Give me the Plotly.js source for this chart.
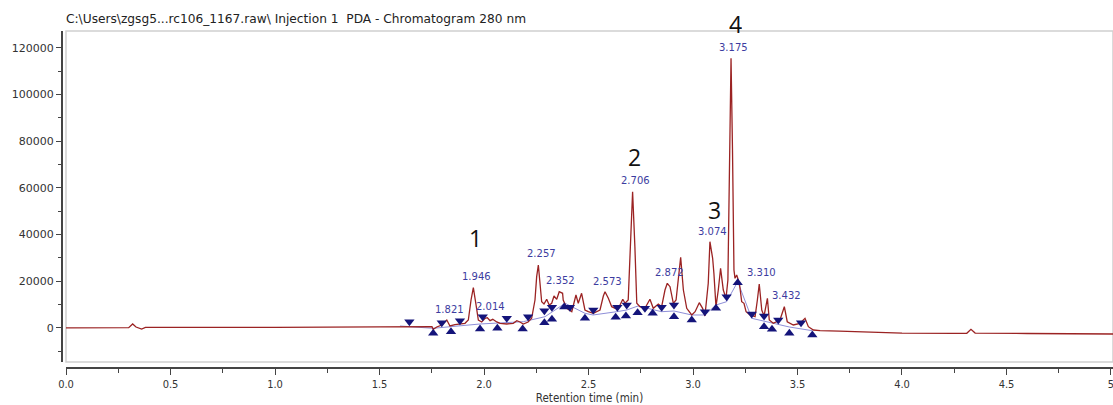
<!DOCTYPE html>
<html>
<head>
<meta charset="utf-8">
<script src="https://cdn.plot.ly/plotly-3.0.1.min.js"></script>
<style>html,body{margin:0;padding:0;background:#fff;}#chart{width:1113px;height:405px;}</style>
</head>
<body>
<div id="chart"></div>
<script>
// Chromatogram trace (retention time in min, intensity)
var traceTime = [0.00,0.30,0.319,0.335,0.362,0.38,1.00,1.55,1.598,1.751,1.757,1.774,1.798,1.822,1.837,1.861,1.909,1.925,1.938,1.949,1.962,1.973,1.989,2.005,2.016,2.029,2.042,2.061,2.077,2.109,2.140,2.157,2.172,2.188,2.211,2.228,2.244,2.252,2.260,2.268,2.276,2.287,2.300,2.312,2.324,2.335,2.348,2.360,2.376,2.379,2.396,2.420,2.440,2.451,2.467,2.483,2.499,2.523,2.555,2.571,2.579,2.595,2.611,2.627,2.647,2.664,2.675,2.690,2.702,2.711,2.722,2.731,2.746,2.770,2.794,2.810,2.834,2.850,2.866,2.877,2.890,2.906,2.919,2.930,2.941,2.954,2.970,2.994,3.010,3.030,3.046,3.057,3.073,3.081,3.094,3.100,3.110,3.121,3.132,3.145,3.158,3.167,3.175,3.182,3.189,3.196,3.201,3.209,3.222,3.233,3.244,3.254,3.273,3.297,3.308,3.317,3.329,3.340,3.356,3.365,3.384,3.416,3.437,3.451,3.480,3.512,3.536,3.552,3.576,3.608,3.70,3.85,4.00,4.25,4.31,4.33,4.35,4.60,5.01];
var traceSignal = [-100,0,1590,300,-560,100,100,200,300,430,-690,300,1160,3300,730,1290,1890,3300,11880,17160,9740,3300,2450,4030,4290,3000,3600,2450,1890,1590,1890,3000,2450,1590,2450,4030,11880,21880,26900,20460,11150,10170,12180,9740,10470,13600,12180,15440,14760,11880,8320,6860,14030,10470,14760,7590,6860,6180,7590,13600,15440,12610,9010,8320,9010,12180,10470,11880,34750,58340,34750,10470,9010,8320,12180,8320,10170,9010,16170,19050,17590,10470,11880,22610,30200,16170,8320,5450,6860,10720,8320,5020,19050,36890,29770,23340,9010,16170,25480,16170,12610,20460,76100,115570,76100,24750,21190,22610,19050,11150,10470,6860,5450,4720,11880,18750,7590,5020,12610,3300,1890,3300,9010,2570,1160,1890,4030,430,-990,-1290,-1500,-2000,-2300,-2400,-2400,-700,-2300,-2500,-2700];

// Integration baseline
var baseTime = [1.598,1.756,1.981,2.188,2.292,2.388,2.483,2.522,2.635,2.683,2.737,2.809,2.850,2.909,2.994,3.057,3.110,3.161,3.214,3.281,3.340,3.378,3.461,3.571];
var baseSignal = [730,-260,1590,2570,4720,10470,6180,5450,6860,7590,9310,7590,6860,7160,5450,5450,9740,11150,19730,4030,2870,2020,300,-1290];

// Peak start/end markers
var downTime = [1.643,1.798,1.885,1.994,2.109,2.211,2.289,2.325,2.411,2.523,2.638,2.683,2.770,2.850,2.909,3.057,3.161,3.281,3.340,3.408,3.517];
var downSignal = [2570,2150,3000,4720,4030,4720,7290,8750,8750,7590,8750,9740,8320,8750,9740,6860,13300,5880,5020,3300,2150];
var upTime = [1.757,1.842,1.981,2.064,2.185,2.289,2.325,2.384,2.483,2.630,2.679,2.735,2.807,2.909,2.994,3.110,3.214,3.340,3.378,3.461,3.571];
var upSignal = [-2400,-1720,-560,-260,-560,2150,3600,8880,4030,4460,5020,6440,6180,4720,3300,8320,19300,430,-690,-2400,-3130];

// Peak retention-time labels
var rtLabels = ["1.821","1.946","2.014","2.257","2.352","2.573","2.706","2.872","3.074","3.175","3.310","3.432"];
var rtLabelTime = [1.833,1.962,2.032,2.276,2.368,2.590,2.726,2.887,3.092,3.193,3.329,3.448];
var rtLabelSignal = [7890,21880,9010,31920,20460,19730,63060,23600,41400,120290,23600,13600];

// Peak numbers
var peakNums = ["1","2","3","4"];
var peakNumTime = [1.957,2.718,3.105,3.201];
var peakNumSignal = [38480,73230,50500,130290];

var xTickVals = [0,0.5,1,1.5,2,2.5,3,3.5,4,4.5,5];
var xTickText = ["0.0","0.5","1.0","1.5","2.0","2.5","3.0","3.5","4.0","4.5","5"];

var yRange = [-14715, 127280];
var yDom0 = 0.0149;
function yToPaper(v){ return yDom0 + (v - yRange[0]) / (yRange[1] - yRange[0]) * (1 - yDom0); }

var annotations = [];
rtLabels.forEach(function(t, i){
  annotations.push({x: rtLabelTime[i], y: rtLabelSignal[i], xref:'x', yref:'y', text: t, showarrow:false,
    xanchor:'center', yanchor:'middle', font:{family:'DejaVu Sans', size:10, color:'#3c3ca0'}});
});
peakNums.forEach(function(t, i){
  var v = peakNumSignal[i];
  var inRange = v <= yRange[1];
  annotations.push({x: peakNumTime[i], y: inRange ? v : yToPaper(v), xref:'x', yref: inRange ? 'y' : 'paper', text: t, showarrow:false,
    xanchor:'center', yanchor:'middle', height:22, font:{family:'Open Sans', size:23, color:'#111'}});
});

var data = [
  {x: baseTime, y: baseSignal, mode:'lines', line:{color:'#8e8ed8', width:1}, hoverinfo:'skip'},
  {x: traceTime, y: traceSignal, mode:'lines', line:{color:'#9b2323', width:1.3}},
  {x: downTime, y: downSignal, mode:'markers', marker:{symbol:'triangle-down', size:9, color:'#14147a'}},
  {x: upTime, y: upSignal, mode:'markers', marker:{symbol:'triangle-up', size:9, color:'#14147a'}}
];

var layout = {
  width: 1113, height: 405,
  margin: {l:61, r:0, t:31, b:38, pad:0},
  paper_bgcolor:'#fff', plot_bgcolor:'#fff',
  showlegend:false,
  title: {text:'C:\\Users\\zgsg5...rc106_1167.raw\\ Injection 1\u00a0 PDA - Chromatogram 280 nm',
    xref:'container', yref:'container', x: 66/1113, y: 1 - 19/405, xanchor:'left', yanchor:'middle',
    font:{family:'DejaVu Sans', size:12.2, color:'#222'}},
  xaxis: {domain:[5/1052, 1], range:[0, 5.0096], anchor:'free', position:0,
    showline:true, linecolor:'#444', linewidth:1.5, showgrid:false, zeroline:false,
    ticks:'outside', ticklen:6, tickwidth:1, tickcolor:'#444',
    tickvals: xTickVals, ticktext: xTickText, ticklabeloverflow:'allow',
    minor:{dtick:0.25, tick0:0, ticks:'outside', ticklen:4, tickcolor:'#444'},
    tickfont:{family:'DejaVu Sans Condensed, DejaVu Sans', size:11, color:'#333'},
    title:{text:'Retention time (min)', standoff:2, font:{family:'DejaVu Sans Condensed, DejaVu Sans', size:11.5, color:'#333'}}},
  yaxis: {domain:[yDom0, 1], range: yRange, anchor:'free', position:0,
    showline:true, linecolor:'#444', linewidth:1.5, showgrid:false, zeroline:false,
    ticks:'outside', ticklen:5, tickwidth:1, tickcolor:'#444',
    dtick:20000, tick0:0, tickformat:'d',
    minor:{dtick:10000, tick0:0, ticks:'outside', ticklen:3, tickcolor:'#444'},
    tickfont:{family:'DejaVu Sans', size:11, color:'#333'}},
  shapes: [{type:'rect', xref:'paper', yref:'paper', x0:5/1052, x1:1, y0:yDom0, y1:1,
    line:{color:'#d0d0d0', width:1.5}, layer:'below'}],
  annotations: annotations
};

Plotly.newPlot('chart', data, layout, {staticPlot:true, displayModeBar:false});
</script>
</body>
</html>
